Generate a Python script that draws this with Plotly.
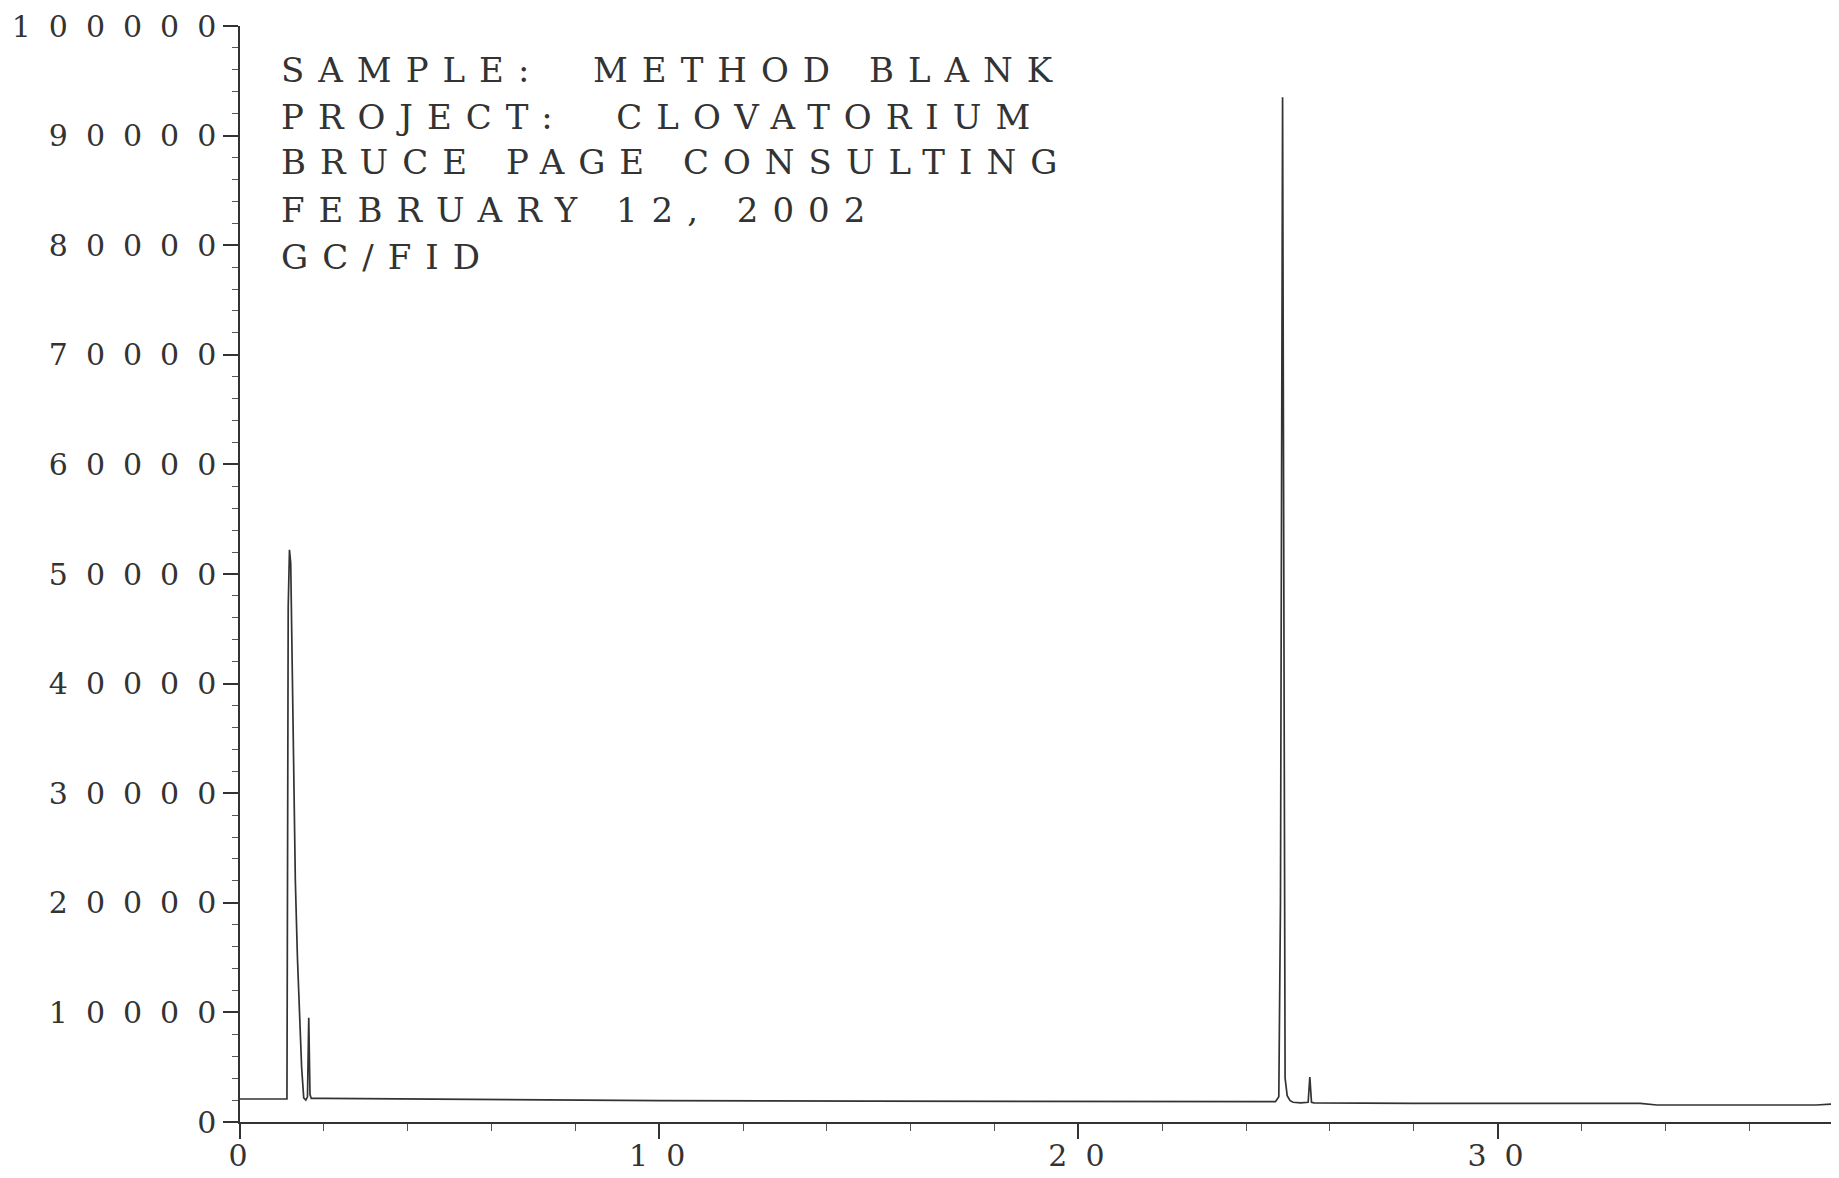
import plotly.graph_objects as go

# Chromatogram trace (retention time in minutes, FID response)
retention_time_min = [
    0.0, 0.5, 1.12, 1.15, 1.18, 1.21, 1.24, 1.28, 1.32, 1.37, 1.42, 1.47, 1.52,
    1.57, 1.61, 1.64, 1.67, 1.70, 2.0, 5.0, 10.0, 15.0, 20.0, 24.0, 24.70,
    24.78, 24.82, 24.87, 24.90, 24.93, 24.98, 25.05, 25.12, 25.30, 25.48,
    25.52, 25.56, 25.62, 28.0, 31.0, 33.4, 33.8, 36.0, 37.6, 38.0,
]
fid_response = [
    2100, 2100, 2100, 47000, 52200, 51000, 44000, 32000, 22000, 15000, 9000,
    5000, 2200, 2000, 2300, 9500, 2500, 2150, 2150, 2050, 1950, 1900, 1850,
    1800, 1850, 2300, 20000, 93500, 40000, 4000, 2400, 1950, 1800, 1750, 1800,
    4100, 1800, 1750, 1700, 1700, 1700, 1550, 1550, 1550, 1650,
]

y_tick_values = [0, 10000, 20000, 30000, 40000, 50000, 60000, 70000, 80000, 90000, 100000]
x_tick_values = [0, 10, 20, 30]

header_lines = [
    "SAMPLE:  METHOD BLANK",
    "PROJECT:  CLOVATORIUM",
    "BRUCE PAGE CONSULTING",
    "FEBRUARY 12, 2002",
    "GC/FID",
]
header_y_paper = [0.960, 0.917, 0.876, 0.832, 0.789]

INK = "#333333"
FONT = "DejaVu Serif"
TICK_LS = 18
TEXT_LS = 14


def spaced(s, ls):
    return f"<span style='letter-spacing:{ls}px'>{s}</span>"


fig = go.Figure()
fig.add_trace(go.Scatter(
    x=retention_time_min, y=fid_response, mode="lines",
    line=dict(color=INK, width=1.7), showlegend=False, hoverinfo="x+y",
))

for line, yp in zip(header_lines, header_y_paper):
    fig.add_annotation(
        x=0.0245, y=yp, xref="paper", yref="paper", xanchor="left", yanchor="middle",
        text=spaced(line, TEXT_LS), showarrow=False,
        font=dict(family=FONT, size=34, color="#333333"),
    )

fig.update_layout(
    width=1839, height=1178,
    margin=dict(l=232, r=14, t=18, b=64, autoexpand=False),
    paper_bgcolor="white", plot_bgcolor="white",
    xaxis=dict(
        range=[0, 38], showgrid=False, zeroline=False, automargin=False,
        showline=True, linecolor=INK, linewidth=1.5,
        ticks="outside", ticklen=15, tickwidth=1.5, tickcolor=INK,
        tickmode="array", tickvals=x_tick_values,
        ticktext=[spaced(str(v), TICK_LS) for v in x_tick_values],
        tickfont=dict(family=FONT, size=30, color=INK),
        ticklabelshift=7,
        ticklabelstandoff=-9,
        minor=dict(tickmode="linear", tick0=0, dtick=2, ticks="outside",
                   ticklen=7, tickwidth=1, tickcolor="#555555", showgrid=False),
    ),
    yaxis=dict(
        range=[0, 100000], showgrid=False, zeroline=False, automargin=False,
        showline=True, linecolor=INK, linewidth=1.5,
        ticks="outside", ticklen=15, tickwidth=1.5, tickcolor=INK,
        tickmode="array", tickvals=y_tick_values,
        ticktext=[spaced(str(v), TICK_LS) for v in y_tick_values],
        tickfont=dict(family=FONT, size=30, color=INK),
        ticklabelstandoff=-TICK_LS + 1,
        minor=dict(tickmode="linear", tick0=0, dtick=2000, ticks="outside",
                   ticklen=6, tickwidth=1, tickcolor="#555555", showgrid=False),
    ),
)

fig.write_html("out.html")
